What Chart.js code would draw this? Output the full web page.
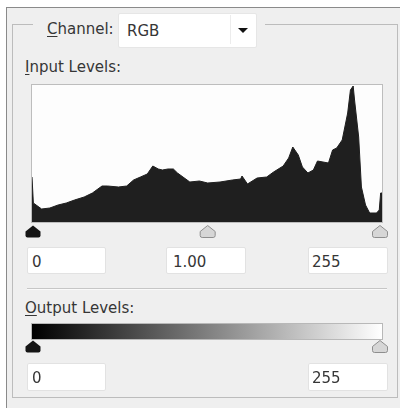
<!DOCTYPE html>
<html><head><meta charset="utf-8">
<script src="https://cdn.jsdelivr.net/npm/chart.js@4"></script>
<style>
html,body{margin:0;padding:0;background:#fff;}
body{width:400px;height:408px;position:relative;overflow:hidden;font-family:"DejaVu Sans",sans-serif;font-size:15px;color:#363636;}
.abs{position:absolute;}
.txt{position:absolute;line-height:15px;white-space:nowrap;}
.box{position:absolute;background:#fff;border:1px solid #e2e2e2;border-radius:2px;}
u{text-decoration:underline;text-underline-offset:2px;}
</style></head>
<body>
<div class="abs" style="left:6px;top:7px;width:394px;height:401px;background:#efefef;border-left:1px solid #8a8a8a;border-top:1px solid #8a8a8a;"></div>
<!-- group box -->
<div class="abs" style="left:12px;top:24px;width:384px;height:373px;border-left:1px solid #bcbcbc;border-right:1px solid #bcbcbc;border-bottom:1px solid #bcbcbc;"></div>
<div class="abs" style="left:12px;top:24px;width:21px;height:1px;background:#bcbcbc;"></div>
<div class="abs" style="left:265px;top:24px;width:132px;height:1px;background:#bcbcbc;"></div>
<div class="txt" style="left:47px;top:22px;"><u>C</u>hannel:</div>
<div class="box" style="left:118px;top:13px;width:137px;height:33px;border-color:#e6e6e6;"></div>
<div class="abs" style="left:230px;top:15px;width:1px;height:29px;background:#ececec;"></div>
<div class="txt" style="left:127px;top:24px;" id="chanTxt"></div>
<svg class="abs" style="left:237px;top:27px;" width="12" height="8"><path d="M1,1 L11,1 L6,6 Z" fill="#111"/></svg>
<div class="txt" style="left:25px;top:60px;"><u>I</u>nput Levels:</div>

<div class="abs" style="left:20px;top:80px;width:372px;height:162px;"><canvas id="c" width="372" height="162"></canvas></div>

<div class="box" style="left:27px;top:247px;width:77px;height:25px;"></div>
<div class="box" style="left:166px;top:247px;width:78px;height:25px;"></div>
<div class="box" style="left:308px;top:247px;width:78px;height:25px;"></div>
<div class="txt" id="in0" style="left:32px;top:255px;"></div>
<div class="txt" id="in1" style="left:173px;top:255px;"></div>
<div class="txt" id="in2" style="left:312px;top:255px;"></div>

<div class="abs" style="left:27px;top:288px;width:360px;height:1px;background:#c6c6c6;"></div>
<div class="abs" style="left:27px;top:289px;width:360px;height:1px;background:#fafafa;"></div>
<div class="txt" style="left:25px;top:301px;"><u>O</u>utput Levels:</div>
<div class="abs" style="left:31px;top:323px;width:350px;height:15px;border:1px solid #b8b8b8;background:linear-gradient(to right,#000,#fff);"></div>
<svg class="abs" style="left:0;top:0;" width="400" height="408" id="outSl"></svg>

<div class="box" style="left:27px;top:363px;width:77px;height:26px;"></div>
<div class="box" style="left:308px;top:363px;width:78px;height:26px;"></div>
<div class="txt" id="out0" style="left:32px;top:371px;"></div>
<div class="txt" id="out1" style="left:312px;top:371px;"></div>

<script>
const channel = 'RGB';
const inputLevelLabels = ['0', '1.00', '255'];
const inputSliderLevels = [0, 128, 255];
const outputLevelLabels = ['0', '255'];
const outputSliderLevels = [0, 255];
const levels = [0,1,7,13,19,25,31,38,44,51,55,63,69,74,79,84,88,92,95,99,103,106,110,115,122,128,137,146,152,153,157,164,171,176,183,187,190,194,197,201,205,208,212,216,219,222,226,230,232,234,235,238,240,243,246,251,253,254,255];
const counts = [45,19,13,14,17,19,22,25,29,36,36,35,36,42,45,48,56,53,52,53,53,49,45,40,41,39,40,42,43,46,38,44,45,50,56,64,75,67,55,49,52,61,60,59,72,74,82,109,132,136,122,85,35,17,9,9,12,29,29];

document.getElementById('chanTxt').textContent = channel;
['in0','in1','in2'].forEach((id,i)=>document.getElementById(id).textContent = inputLevelLabels[i]);
['out0','out1'].forEach((id,i)=>document.getElementById(id).textContent = outputLevelLabels[i]);

const HW = 7.5, SH = 12;
function sliderPath(ctx, cx, ty){
  ctx.beginPath();
  ctx.moveTo(cx, ty);
  ctx.lineTo(cx+HW, ty+6);
  ctx.lineTo(cx+HW, ty+SH-2);
  ctx.quadraticCurveTo(cx+HW, ty+SH, cx+HW-2, ty+SH);
  ctx.lineTo(cx-HW+2, ty+SH);
  ctx.quadraticCurveTo(cx-HW, ty+SH, cx-HW, ty+SH-2);
  ctx.lineTo(cx-HW, ty+6);
  ctx.closePath();
}
function sliderSvg(cx, ty){
  return `M${cx},${ty} L${cx+HW},${ty+6} L${cx+HW},${ty+SH-2} Q${cx+HW},${ty+SH} ${cx+HW-2},${ty+SH} L${cx-HW+2},${ty+SH} Q${cx-HW},${ty+SH} ${cx-HW},${ty+SH-2} L${cx-HW},${ty+6} Z`;
}

const frame = {
  id:'frame',
  beforeDatasetsDraw(chart){
    const {ctx, chartArea:a} = chart;
    ctx.save();
    ctx.fillStyle = '#fdfdfd';
    ctx.fillRect(a.left, a.top, a.right-a.left, a.bottom-a.top);
    ctx.restore();
  },
  afterDraw(chart){
    const {ctx, chartArea:a, scales} = chart;
    ctx.save();
    ctx.strokeStyle = '#bdbdbd';
    ctx.lineWidth = 1;
    ctx.strokeRect(a.left-0.5, a.top-0.5, a.right-a.left+1, a.bottom-a.top+1);
    inputSliderLevels.forEach((lv,i)=>{
      const x = scales.x.getPixelForValue(lv) + (i===0?1:(i===2?-2:0));
      sliderPath(ctx, x, a.bottom+3.5);
      if(i===0){ ctx.fillStyle='#151515'; ctx.fill(); }
      else { ctx.fillStyle='#d6d6d6'; ctx.fill(); ctx.strokeStyle='#8e8e8e'; ctx.stroke(); }
    });
    ctx.restore();
  }
};

const chart = new Chart(document.getElementById('c'), {
  type:'line',
  data:{ datasets:[{
    data: levels.map((l,i)=>({x:l, y:counts[i]})),
    borderColor:'#1f1f1f', backgroundColor:'#1f1f1f', borderWidth:1,
    fill:'origin', pointRadius:0, tension:0
  }]},
  options:{
    responsive:false, animation:false, events:[],
    layout:{padding:{left:12,right:10,top:5,bottom:20}},
    plugins:{legend:{display:false}, tooltip:{enabled:false}},
    scales:{
      x:{type:'linear', min:0, max:255, display:false},
      y:{min:0, max:137, display:false}
    }
  },
  plugins:[frame]
});

// output sliders placed along the gradient (same 32..382 span as the x scale)
const xs = chart.scales.x;
const svg = document.getElementById('outSl');
outputSliderLevels.forEach((lv,i)=>{
  const x = 20 + xs.getPixelForValue(lv) + (i===0?1:-2);
  const p = document.createElementNS('http://www.w3.org/2000/svg','path');
  p.setAttribute('d', sliderSvg(x, 340.5));
  if(i===0){ p.setAttribute('fill','#151515'); }
  else { p.setAttribute('fill','#d6d6d6'); p.setAttribute('stroke','#8e8e8e'); }
  svg.appendChild(p);
});
</script>
</body></html>
